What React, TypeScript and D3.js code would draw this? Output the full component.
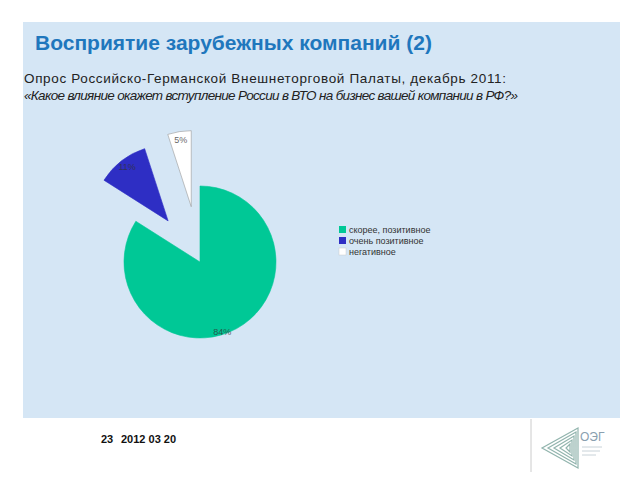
import React from "react";
import * as d3 from "d3";

const categories = ["скорее, позитивное", "очень позитивное", "негативное"];
const values = [84, 11, 5];
const labels = ["84%", "11%", "5%"];
const colors = ["#00c896", "#2e2ec4", "#ffffff"];
const explode = [0, 52, 56];

const title = "Восприятие зарубежных компаний (2)";
const subtitle1 = "Опрос Российско-Германской Внешнеторговой Палаты, декабрь 2011:";
const subtitle2 = "«Какое влияние окажет вступление России в ВТО на бизнес вашей компании в РФ?»";
const footerPage = "23";
const footerDate = "2012 03 20";

export default function App() {
  const cx = 200, cy = 262, r = 76;
  const pie = d3.pie<number>().sort(null).value((d) => d).startAngle(0).endAngle(2 * Math.PI);
  const arcs = pie(values);
  const arcGen = d3.arc<d3.PieArcDatum<number>>().innerRadius(0).outerRadius(r);
  const legendY = d3.scaleBand<string>().domain(categories).range([226, 259]);

  return (
    <svg width={640} height={480} style={{ position: "absolute", left: 0, top: 0, background: "#fff" }}
      fontFamily="Liberation Sans, Arial, sans-serif">
      <rect x={23} y={22} width={597} height={396} fill="#d5e6f5" />
      <text x={35} y={50} fontSize={21} fontWeight="bold" fill="#1f77bd">{title}</text>
      <text x={24} y={83} fontSize={13.5} fill="#222" textLength={482} lengthAdjust="spacing">{subtitle1}</text>
      <text x={24} y={100} fontSize={13.5} fontStyle="italic" fill="#222" textLength={494} lengthAdjust="spacing">{subtitle2}</text>

      {arcs.map((a, i) => {
        const mid = (a.startAngle + a.endAngle) / 2;
        const dx = Math.sin(mid) * explode[i];
        const dy = -Math.cos(mid) * explode[i];
        const lr = i === 0 ? r * 0.98 : r * 0.88;
        const lx = Math.sin(i === 0 ? mid + 0.2 : mid) * lr;
        const ly = -Math.cos(i === 0 ? mid + 0.2 : mid) * lr;
        return (
          <g key={i} transform={`translate(${cx + dx},${cy + dy})`}>
            <path d={arcGen(a) || ""} fill={colors[i]} stroke={i === 2 ? "#999" : colors[i]} strokeWidth={0.6} />
            <text x={lx} y={ly} fontSize={9} textAnchor="middle" dominantBaseline="middle" fill="#333" opacity={0.75}>{labels[i]}</text>
          </g>
        );
      })}

      {categories.map((c, i) => (
        <g key={c} transform={`translate(339,${legendY(c)})`}>
          <rect x={0} y={0} width={7} height={7} fill={colors[i]} stroke={i === 2 ? "#ccc" : "none"} strokeWidth={0.5} />
          <text x={10} y={6.5} fontSize={9} fill="#333">{c}</text>
        </g>
      ))}

      <text x={101} y={443} fontSize={11} fontWeight="bold" fill="#111">{footerPage}</text>
      <text x={121} y={443} fontSize={11} fontWeight="bold" fill="#111">{footerDate}</text>

      <line x1={531} y1={419} x2={531} y2={472} stroke="#ccc" strokeWidth={1} />
      <g fill="none" stroke="#7fa8a0" strokeWidth={1.2} opacity={0.85}>
        {[0, 1, 2, 3, 4].map((k) => (
          <path key={k} d={`M${578 - k * 2},${428 + k * 4} L${578 - k * 2},${468 - k * 4} L${542 + k * 6},${448} Z`} />
        ))}
      </g>
      <text x={580} y={441} fontSize={12} fill="#8aa0b0">ОЭГ</text>
      <g stroke="#c8d2d8" strokeWidth={1}>
        <line x1={582} y1={447} x2={602} y2={447} />
        <line x1={582} y1={451} x2={600} y2={451} />
        <line x1={582} y1={455} x2={596} y2={455} />
      </g>
    </svg>
  );
}
